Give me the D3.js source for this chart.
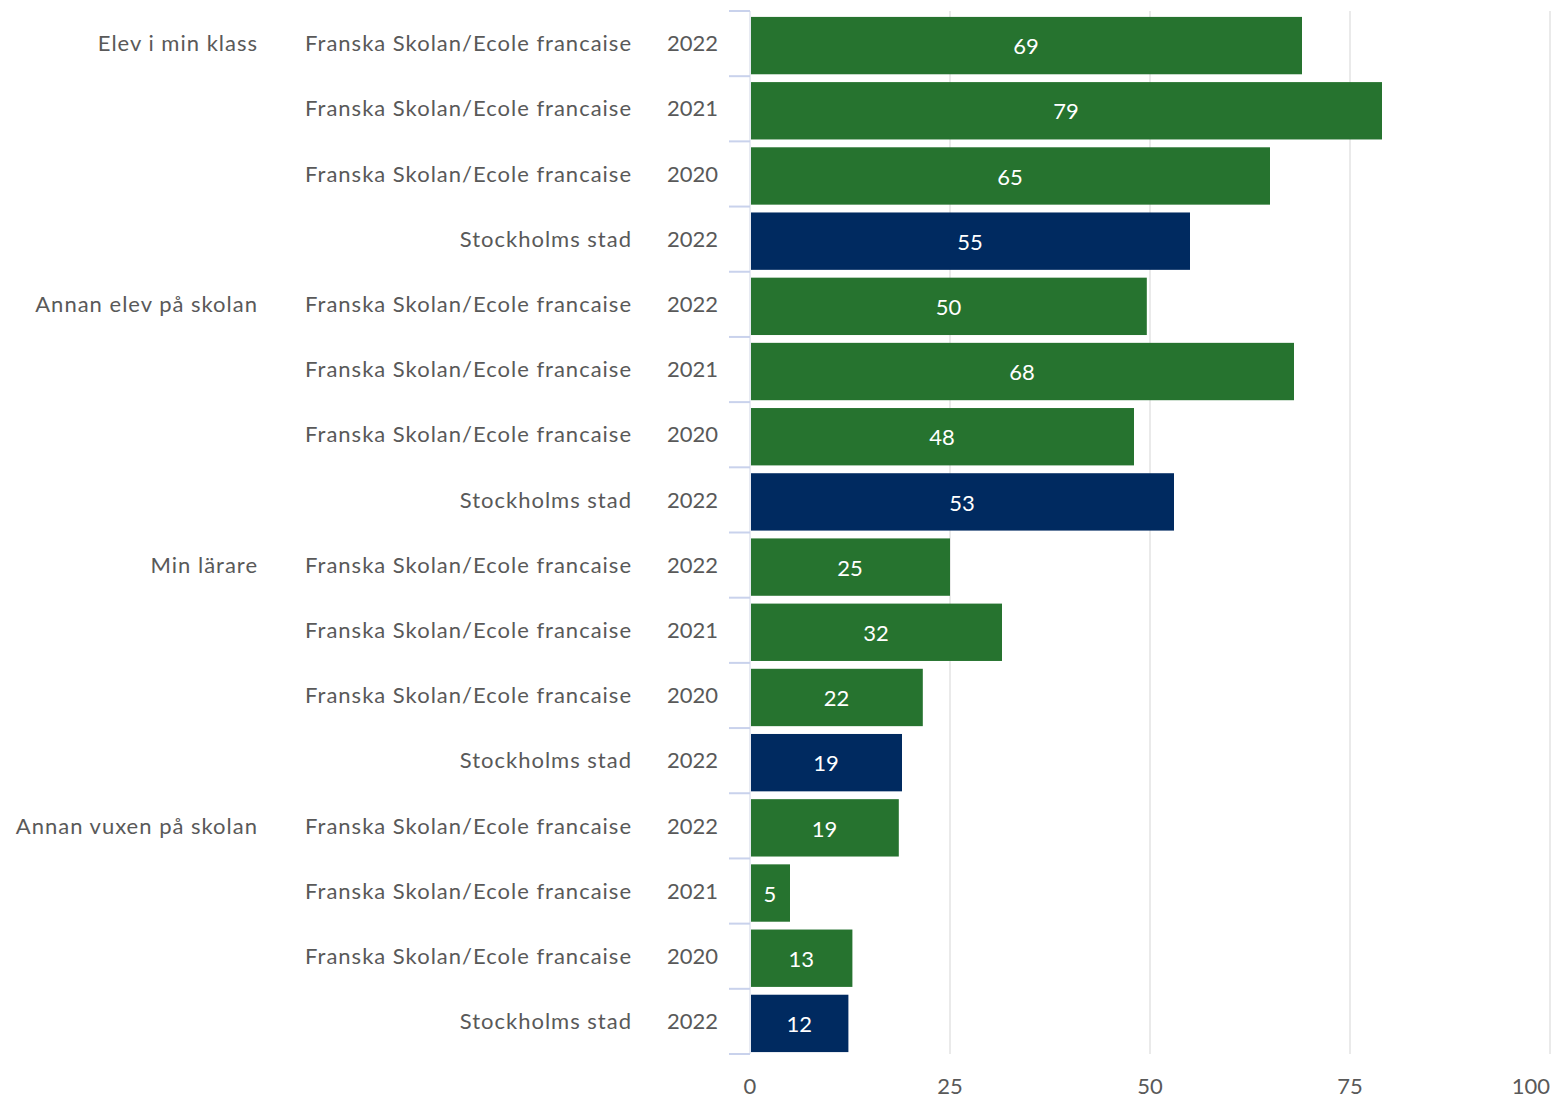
<!DOCTYPE html>
<html>
<head>
<meta charset="utf-8">
<script src="https://cdn.jsdelivr.net/npm/d3@7"></script>
<style>
  body { margin: 0; background: #fff; }
  text { font-family: Lato, "Noto Sans", sans-serif; }
</style>
</head>
<body>
<svg id="chart" width="1553" height="1098"></svg>
<script>
// one entry per bar, top to bottom
let groupLabels = ['Elev i min klass', '', '', '', 'Annan elev på skolan', '', '', '', 'Min lärare', '', '', '', 'Annan vuxen på skolan', '', '', '']
let unitLabels = ['Franska Skolan/Ecole francaise', 'Franska Skolan/Ecole francaise', 'Franska Skolan/Ecole francaise', 'Stockholms stad',
                  'Franska Skolan/Ecole francaise', 'Franska Skolan/Ecole francaise', 'Franska Skolan/Ecole francaise', 'Stockholms stad',
                  'Franska Skolan/Ecole francaise', 'Franska Skolan/Ecole francaise', 'Franska Skolan/Ecole francaise', 'Stockholms stad',
                  'Franska Skolan/Ecole francaise', 'Franska Skolan/Ecole francaise', 'Franska Skolan/Ecole francaise', 'Stockholms stad']
let yearLabels = ['2022', '2021', '2020', '2022', '2022', '2021', '2020', '2022', '2022', '2021', '2020', '2022', '2022', '2021', '2020', '2022']
let values = [69, 79, 65, 55, 49.6, 68, 48, 53, 25, 31.5, 21.6, 19, 18.6, 5, 12.8, 12.3]
let valueLabels = ['69', '79', '65', '55', '50', '68', '48', '53', '25', '32', '22', '19', '19', '5', '13', '12']
let xTicks = [0, 25, 50, 75, 100]

let svg = d3.select('#chart')
let plotLeft = 750, plotRight = 1550, plotTop = 11, plotBottom = 1054

let rows = d3.range(values.length)

let x = d3.scaleLinear().domain([0, 100]).range([plotLeft, plotRight])
// bars sit a little low inside their rows, as in the original
let y = d3.scaleBand().domain(rows).range([plotTop + 2, plotBottom + 2]).paddingInner(0.12).paddingOuter(0.06)

let textColor = '#595959'
let colorFor = (i) => unitLabels[i] === 'Stockholms stad' ? '#002a60' : '#26732f'

// gridlines
svg.append('g')
    .selectAll('line')
    .data(xTicks.slice(1))
    .enter()
    .append('line')
    .attr('x1', d => x(d)).attr('x2', d => x(d))
    .attr('y1', plotTop).attr('y2', plotBottom)
    .attr('stroke', '#e3e3e3')
    .attr('stroke-width', 1.5)

// bars
svg.append('g')
    .selectAll('rect')
    .data(rows)
    .enter()
    .append('rect')
    .attr('x', x(0) + 1)
    .attr('y', i => y(i))
    .attr('width', i => x(values[i]) - x(0) - 1)
    .attr('height', y.bandwidth())
    .attr('fill', i => colorFor(i))

// value labels inside bars
svg.append('g')
    .selectAll('text')
    .data(rows)
    .enter()
    .append('text')
    .attr('x', i => (x(0) + x(values[i])) / 2)
    .attr('y', i => y(i) + y.bandwidth() / 2 + 1)
    .attr('dy', '0.35em')
    .attr('text-anchor', 'middle')
    .attr('fill', '#fff')
    .style('font-size', '22px')
    .text(i => valueLabels[i])

// y axis: line + ticks at row boundaries
let step = (plotBottom - plotTop) / values.length
let bounds = d3.range(values.length + 1).map(k => plotTop + k * step)
svg.append('line')
    .attr('x1', plotLeft).attr('x2', plotLeft)
    .attr('y1', plotTop).attr('y2', plotBottom)
    .attr('stroke', '#dfe3ee')
    .attr('stroke-width', 1.5)
svg.append('g')
    .selectAll('line')
    .data(bounds)
    .enter()
    .append('line')
    .attr('x1', plotLeft - 21).attr('x2', plotLeft)
    .attr('y1', d => d).attr('y2', d => d)
    .attr('stroke', '#c9d2ec')
    .attr('stroke-width', 2)

// row labels (three columns)
let rowCenter = i => plotTop + i * step + step / 2
let addColumn = (labels, xPos, spacing) => {
    svg.append('g')
        .selectAll('text')
        .data(rows)
        .enter()
        .append('text')
        .attr('x', xPos)
        .attr('y', i => rowCenter(i))
        .attr('dy', '0.35em')
        .attr('text-anchor', 'end')
        .attr('fill', textColor)
        .style('font-size', '22px')
        .style('letter-spacing', spacing)
        .text(i => labels[i])
}
addColumn(groupLabels, 258, '1px')
addColumn(unitLabels, 632, '1px')
addColumn(yearLabels, 718, '0px')

// x axis tick labels
svg.append('g')
    .selectAll('text')
    .data(xTicks)
    .enter()
    .append('text')
    .attr('x', d => x(d))
    .attr('y', 1086)
    .attr('dy', '0.35em')
    .attr('text-anchor', d => d === 100 ? 'end' : 'middle')
    .attr('fill', textColor)
    .style('font-size', '22px')
    .text(d => d)
</script>
</body>
</html>
